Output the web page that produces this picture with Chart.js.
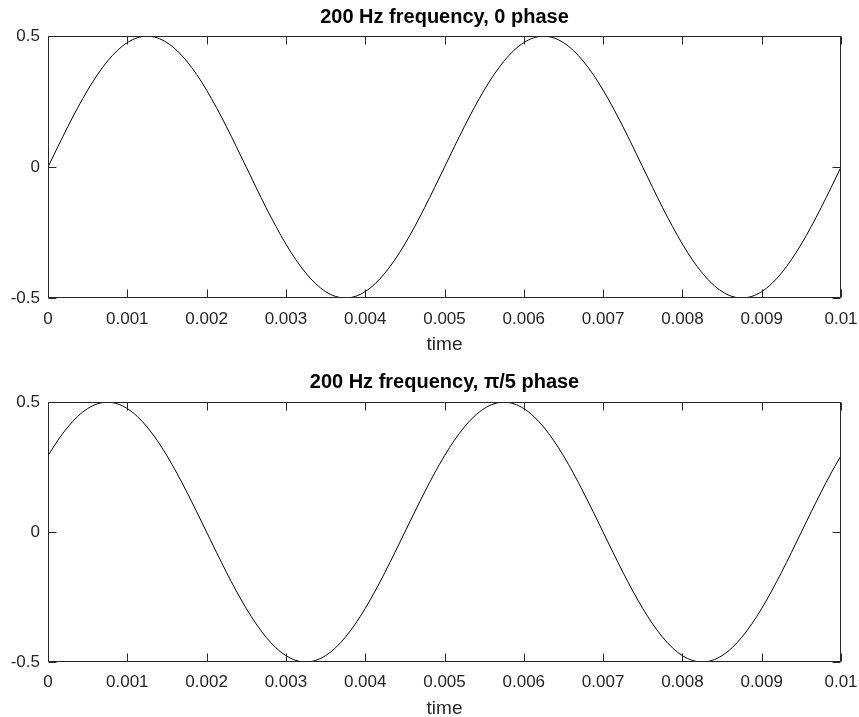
<!DOCTYPE html>
<html>
<head>
<meta charset="utf-8">
<script src="https://cdn.jsdelivr.net/npm/chart.js@4.4.1/dist/chart.umd.min.js"></script>
<style>
  html, body { margin: 0; padding: 0; background: #fff; overflow: hidden; }
  #wrap { position: relative; width: 859px; height: 717px; overflow: hidden; }
  canvas { position: absolute; left: 0; }
  #c1 { top: 0; }
  #c2 { top: 358px; }
</style>
</head>
<body>
<div id="wrap">
  <canvas id="c2" width="859" height="365"></canvas>
  <canvas id="c1" width="859" height="358"></canvas>
</div>
<script>
// ---- data ----
const timeValues = [
  0, 0.000125, 0.00025, 0.000375, 0.0005, 0.000625, 0.00075, 0.000875, 0.001,
  0.001125, 0.00125, 0.001375, 0.0015, 0.001625, 0.00175, 0.001875, 0.002,
  0.002125, 0.00225, 0.002375, 0.0025, 0.002625, 0.00275, 0.002875, 0.003,
  0.003125, 0.00325, 0.003375, 0.0035, 0.003625, 0.00375, 0.003875, 0.004,
  0.004125, 0.00425, 0.004375, 0.0045, 0.004625, 0.00475, 0.004875, 0.005,
  0.005125, 0.00525, 0.005375, 0.0055, 0.005625, 0.00575, 0.005875, 0.006,
  0.006125, 0.00625, 0.006375, 0.0065, 0.006625, 0.00675, 0.006875, 0.007,
  0.007125, 0.00725, 0.007375, 0.0075, 0.007625, 0.00775, 0.007875, 0.008,
  0.008125, 0.00825, 0.008375, 0.0085, 0.008625, 0.00875, 0.008875, 0.009,
  0.009125, 0.00925, 0.009375, 0.0095, 0.009625, 0.00975, 0.009875, 0.01
];
const wavePhase0 = [
  0, 0.0782, 0.1545, 0.2270, 0.2939, 0.3536, 0.4045, 0.4455, 0.4755, 0.4938,
  0.5, 0.4938, 0.4755, 0.4455, 0.4045, 0.3536, 0.2939, 0.2270, 0.1545, 0.0782,
  0, -0.0782, -0.1545, -0.2270, -0.2939, -0.3536, -0.4045, -0.4455, -0.4755, -0.4938,
  -0.5, -0.4938, -0.4755, -0.4455, -0.4045, -0.3536, -0.2939, -0.2270, -0.1545, -0.0782,
  0, 0.0782, 0.1545, 0.2270, 0.2939, 0.3536, 0.4045, 0.4455, 0.4755, 0.4938,
  0.5, 0.4938, 0.4755, 0.4455, 0.4045, 0.3536, 0.2939, 0.2270, 0.1545, 0.0782,
  0, -0.0782, -0.1545, -0.2270, -0.2939, -0.3536, -0.4045, -0.4455, -0.4755, -0.4938,
  -0.5, -0.4938, -0.4755, -0.4455, -0.4045, -0.3536, -0.2939, -0.2270, -0.1545, -0.0782,
  0
];
const wavePhasePi5 = [
  0.2939, 0.3536, 0.4045, 0.4455, 0.4755, 0.4938, 0.5, 0.4938, 0.4755, 0.4455,
  0.4045, 0.3536, 0.2939, 0.2270, 0.1545, 0.0782, 0, -0.0782, -0.1545, -0.2270,
  -0.2939, -0.3536, -0.4045, -0.4455, -0.4755, -0.4938, -0.5, -0.4938, -0.4755, -0.4455,
  -0.4045, -0.3536, -0.2939, -0.2270, -0.1545, -0.0782, 0, 0.0782, 0.1545, 0.2270,
  0.2939, 0.3536, 0.4045, 0.4455, 0.4755, 0.4938, 0.5, 0.4938, 0.4755, 0.4455,
  0.4045, 0.3536, 0.2939, 0.2270, 0.1545, 0.0782, 0, -0.0782, -0.1545, -0.2270,
  -0.2939, -0.3536, -0.4045, -0.4455, -0.4755, -0.4938, -0.5, -0.4938, -0.4755, -0.4455,
  -0.4045, -0.3536, -0.2939, -0.2270, -0.1545, -0.0782, 0, 0.0782, 0.1545, 0.2270,
  0.2939
];
const xTickValues = [0, 0.001, 0.002, 0.003, 0.004, 0.005, 0.006, 0.007, 0.008, 0.009, 0.01];
const xTickLabels = ['0', '0.001', '0.002', '0.003', '0.004', '0.005', '0.006', '0.007', '0.008', '0.009', '0.01'];
const yTickValues = [-0.5, 0, 0.5];
const yTickLabels = ['-0.5', '0', '0.5'];
const titleTop = '200 Hz frequency, 0 phase';
const titleBottom = '200 Hz frequency, \u03C0/5 phase';
const xAxisLabel = 'time';

// ---- styling ----
const FONT = '"Liberation Sans", Arial, Helvetica, sans-serif';
const AXIS_COLOR = '#262626';

const boxTicks = {
  id: 'boxTicks',
  afterDatasetsDraw(chart) {
    const { ctx, chartArea, scales } = chart;
    const L = Math.round(chartArea.left) + 0.5;
    const R = Math.round(chartArea.right) - 0.5;
    const T = Math.round(chartArea.top) + 0.5;
    const B = Math.round(chartArea.bottom) - 0.5;
    const len = 8;
    ctx.save();
    ctx.strokeStyle = AXIS_COLOR;
    ctx.lineWidth = 1;
    ctx.beginPath();
    ctx.rect(L, T, R - L, B - T);
    scales.x.ticks.forEach(t => {
      const px = Math.round(scales.x.getPixelForValue(t.value)) + 0.5;
      ctx.moveTo(px, B); ctx.lineTo(px, B - len);
      ctx.moveTo(px, T); ctx.lineTo(px, T + len);
    });
    scales.y.ticks.forEach(t => {
      const py = Math.round(scales.y.getPixelForValue(t.value)) + 0.5;
      ctx.moveTo(L, py); ctx.lineTo(L + len, py);
      ctx.moveTo(R, py); ctx.lineTo(R - len, py);
    });
    ctx.stroke();
    ctx.restore();
  }
};

function makeChart(id, values, title, cfg) {
  const points = timeValues.map((t, i) => ({ x: t, y: values[i] }));
  return new Chart(document.getElementById(id), {
    type: 'line',
    data: {
      datasets: [{
        data: points,
        borderColor: '#000000',
        borderWidth: 1,
        pointRadius: 0,
        fill: false,
        cubicInterpolationMode: 'monotone'
      }]
    },
    options: {
      responsive: false,
      animation: false,
      devicePixelRatio: 1,
      events: [],
      layout: { padding: { left: 0, right: 18, top: 0, bottom: 0 } },
      plugins: {
        legend: { display: false },
        tooltip: { enabled: false },
        title: {
          display: true,
          fullSize: false,
          text: title,
          color: '#000000',
          font: { family: FONT, size: 20, weight: 'bold', lineHeight: 1.2 },
          padding: { top: cfg.titleTop, bottom: cfg.titleBottom }
        }
      },
      scales: {
        x: {
          type: 'linear',
          min: 0,
          max: 0.01,
          grid: { display: false, drawTicks: false },
          border: { display: false },
          afterBuildTicks: s => { s.ticks = xTickValues.map(v => ({ value: v })); },
          afterFit: s => { s.height = cfg.xHeight; s.paddingLeft = 0; s.paddingRight = 0; },
          ticks: {
            autoSkip: false,
            maxRotation: 0,
            padding: cfg.xTickPad,
            color: AXIS_COLOR,
            font: { family: FONT, size: 17, lineHeight: 1.2 },
            callback: (v, i) => xTickLabels[i]
          },
          title: {
            display: true,
            text: xAxisLabel,
            color: AXIS_COLOR,
            font: { family: FONT, size: 19, lineHeight: 1.2 },
            padding: { top: 0, bottom: cfg.xTitlePad }
          }
        },
        y: {
          type: 'linear',
          min: -0.5,
          max: 0.5,
          grid: { display: false, drawTicks: false },
          border: { display: false },
          afterBuildTicks: s => { s.ticks = yTickValues.map(v => ({ value: v })); },
          afterFit: s => { s.width = 48; s.paddingTop = 0; s.paddingBottom = 0; },
          ticks: {
            autoSkip: false,
            padding: 8,
            color: AXIS_COLOR,
            font: { family: FONT, size: 17, lineHeight: 1.2 },
            callback: (v, i) => yTickLabels[i]
          }
        }
      }
    },
    plugins: [boxTicks]
  });
}

makeChart('c1', wavePhase0, titleTop,
  { titleTop: 5, titleBottom: 7.2, xHeight: 60, xTickPad: 11, xTitlePad: 1.5 });
makeChart('c2', wavePhasePi5, titleBottom,
  { titleTop: 12.3, titleBottom: 7.9, xHeight: 61, xTickPad: 10.2, xTitlePad: 3.2 });
</script>
</body>
</html>
